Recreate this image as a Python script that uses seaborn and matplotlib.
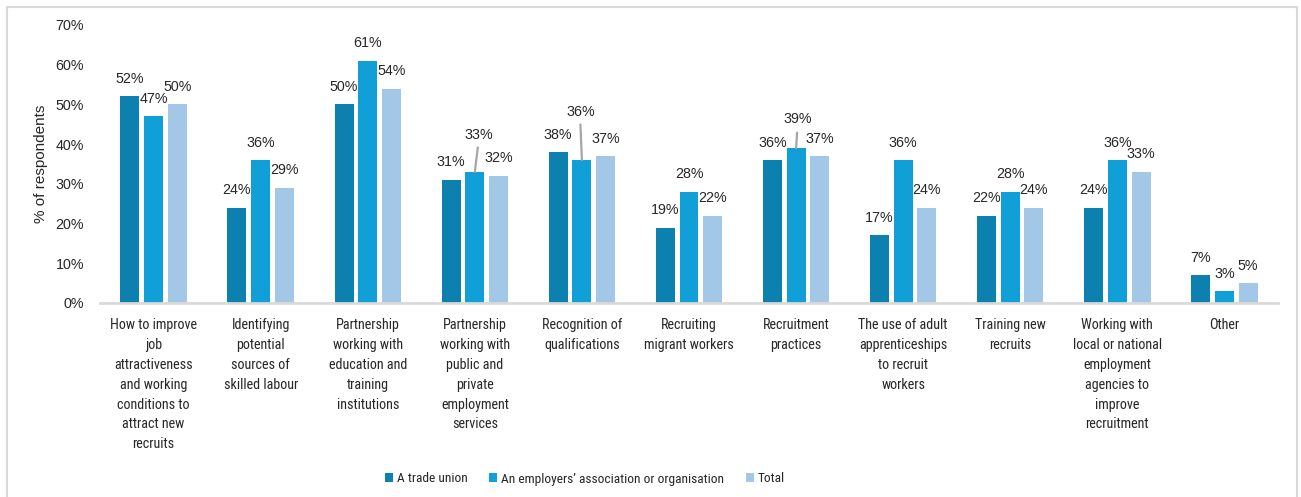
import os
import matplotlib
matplotlib.use("Agg")
import matplotlib.pyplot as plt
from matplotlib import font_manager
from matplotlib.font_manager import FontProperties
from matplotlib.patches import Patch, Rectangle
from matplotlib.ticker import FuncFormatter, MultipleLocator
import pandas as pd
import seaborn as sns

# ---- data -------------------------------------------------------------
categories = [
    "How to improve\njob\nattractiveness\nand working\nconditions to\nattract new\nrecruits",
    "Identifying\npotential\nsources of\nskilled labour",
    "Partnership\nworking with\neducation and\ntraining\ninstitutions",
    "Partnership\nworking with\npublic and\nprivate\nemployment\nservices",
    "Recognition of\nqualifications",
    "Recruiting\nmigrant workers",
    "Recruitment\npractices",
    "The use of adult\napprenticeships\nto recruit\nworkers",
    "Training new\nrecruits",
    "Working with\nlocal or national\nemployment\nagencies to\nimprove\nrecruitment",
    "Other",
]
series_names = ["A trade union", "An employers\u2019 association or organisation", "Total"]
trade_union = [52, 24, 50, 31, 38, 19, 36, 17, 22, 24, 7]
employers_assoc = [47, 36, 61, 33, 36, 28, 39, 36, 28, 36, 3]
total = [50, 29, 54, 32, 37, 22, 37, 24, 24, 33, 5]
y_label = "% of respondents"

# ---- styling ------------------------------------------------------------
colors = ["#0C80AE", "#119FD7", "#A3C8E7"]
text_color = "#262626"
axis_grey = "#D9D9D9"
leader_grey = "#A6A6A6"

sns.set_theme(style="white")
plt.rcParams["font.family"] = ["Liberation Sans", "DejaVu Sans"]


def narrow_font(size):
    """A condensed sans face for category and legend text, if one is installed."""
    wanted = ["liberationsansnarrow-regular", "robotocondensed-regular",
              "opensans_condensed-regular", "opensanscondensed-regular", "arialn"]
    files = font_manager.findSystemFonts()
    for key in wanted:
        for f in files:
            if os.path.splitext(os.path.basename(f))[0].lower().replace(" ", "") == key:
                return FontProperties(fname=f, size=size)
    return FontProperties(family=["Liberation Sans", "DejaVu Sans"], size=size * 0.93)


tick_font = narrow_font(10.2)
legend_font = narrow_font(9.6)

df = pd.DataFrame({
    "category": categories * 3,
    "series": sum([[s] * len(categories) for s in series_names], []),
    "value": trade_union + employers_assoc + total,
})

W, H = 1301, 497
fig = plt.figure(figsize=(W / 100, H / 100), dpi=100)
ax = fig.add_axes([100 / W, 1 - 303 / H, 1178 / W, 278 / H])

sns.barplot(
    data=df, x="category", y="value", hue="series",
    order=categories, hue_order=series_names, palette=colors,
    width=0.664, gap=0.2, saturation=1, legend=False, ax=ax,
    edgecolor="none",
)

ax.set_xlim(-0.5, len(categories) - 0.5)
ax.set_ylim(0, 70)
ax.yaxis.set_major_locator(MultipleLocator(10))
ax.yaxis.set_major_formatter(FuncFormatter(lambda v, _: f"{v:.0f}%"))
ax.tick_params(axis="y", length=0, pad=11.5, labelsize=10.3, labelcolor=text_color)
ax.tick_params(axis="x", length=0, pad=11)
ax.set_xticks(range(len(categories)))
ax.set_xticklabels(categories, fontproperties=tick_font, color=text_color,
                   linespacing=1.53, va="top")
ax.set_xlabel("")
ax.set_ylabel(y_label, fontsize=11, color=text_color)
ax.yaxis.set_label_coords(-0.044, 0.5)

for side in ["top", "right", "left"]:
    ax.spines[side].set_visible(False)
ax.spines["bottom"].set_color(axis_grey)
ax.spines["bottom"].set_linewidth(2.0)
ax.grid(False)

# ---- data labels ------------------------------------------------------
px = 0.72  # points per pixel at 100 dpi
# label nudges (series index, category index) -> (dx px, dy px above bar top, leader top offset)
nudges = {
    (1, 3): (4, 37, (3, 24.5)),
    (1, 4): (-1.5, 48, (-1.5, 35.5)),
    (1, 6): (1.5, 29, (1, 15.5)),
}
for si, cont in enumerate(ax.containers):
    for ci, bar in enumerate(cont):
        xc = bar.get_x() + bar.get_width() / 2
        top = bar.get_height()
        dx, dy, lead = nudges.get((si, ci), (0, 17.5, None))
        ax.annotate(f"{top:.0f}%", xy=(xc, top), xytext=(dx * px, dy * px),
                    textcoords="offset points", ha="center", va="center",
                    fontsize=10.3, color=text_color)
        if lead is not None:
            ax.annotate("", xy=(xc, top), xytext=(lead[0] * px, lead[1] * px),
                        textcoords="offset points",
                        arrowprops=dict(arrowstyle="-", color=leader_grey, lw=1.6,
                                        shrinkA=0, shrinkB=0))

# ---- legend -------------------------------------------------------------
handles = [Patch(facecolor=c, edgecolor="none", label=n) for c, n in zip(colors, series_names)]
leg = fig.legend(handles=handles, loc="center", bbox_to_anchor=(585 / W, 1 - 479 / H),
                 ncol=3, frameon=False, handlelength=0.62, handleheight=0.62,
                 handletextpad=0.3, columnspacing=1.6, prop=legend_font)
for t in leg.get_texts():
    t.set_color(text_color)

# ---- chart border ---------------------------------------------------------
fig.patches.append(Rectangle((7 / W, -0.05), 1290 / W, 1.05 - 7 / H,
                             transform=fig.transFigure, fill=False,
                             edgecolor=axis_grey, lw=1.5))

fig.savefig("out.png", dpi=100, facecolor="white")
